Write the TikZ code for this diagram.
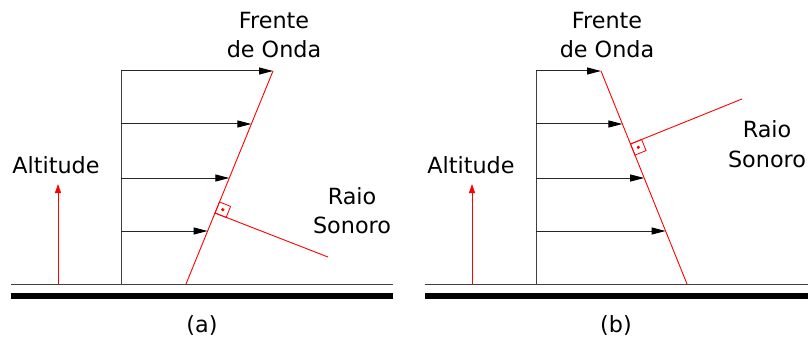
\documentclass[tikz,border=0pt]{standalone}
\usepackage{fontspec}
\setmainfont{DejaVu Sans}
\usetikzlibrary{arrows.meta}
\begin{document}
\begin{tikzpicture}[x=1pt,y=-1pt,
  lbl/.style={font=\fontsize{22.3}{26}\selectfont, inner sep=0pt, anchor=base},
  prop/.style={draw=black!85, line width=1pt, -{Triangle[length=14pt,width=7pt,color=black]}},
  axisline/.style={draw=black!75, line width=1pt},
  front/.style={draw=red, line width=0.9pt},
  alt/.style={draw=red, line width=0.9pt, -{Triangle[length=9pt,width=6pt]}},
  bar/.style={fill=black}
]
\useasboundingbox (0,0) rectangle (808,342);

% ---------- panel (a) ----------
\coordinate (ga1) at (11,284); \coordinate (ga2) at (393,284);
\draw[axisline] (ga1) -- (ga2);
\fill[bar] (11,293) rectangle (393,299);
\coordinate (va0) at (121,284); \coordinate (va1) at (121,71);
\draw[axisline] (va0) -- (va1);
\coordinate (wa0) at (186,284); \coordinate (wa1) at (273,71);
\draw[front] (wa0) -- (wa1);
\coordinate (sa1) at (121,124); \coordinate (ta1) at (251.4,124);
\coordinate (sa2) at (121,178); \coordinate (ta2) at (229.3,178);
\coordinate (sa3) at (121,231); \coordinate (ta3) at (207.6,231);
\draw[prop] (va1) -- (wa1);
\draw[prop] (sa1) -- (ta1);
\draw[prop] (sa2) -- (ta2);
\draw[prop] (sa3) -- (ta3);
\coordinate (fa) at (215,213); \coordinate (ra) at (328,257);
\draw[front] (fa) -- (ra);
\draw[draw=red, line width=0.8pt] (fa) -- (219.5,201.9) -- (230.6,206.4) -- (226.1,217.5) -- cycle;
\fill[red] (222.8,209.7) circle (1.8);
\coordinate (aa0) at (58,284); \coordinate (aa1) at (58,184);
\draw[alt] (aa0) -- (aa1);
\node[lbl] (fra) at (274,29) {Frente};
\node[lbl] (doa) at (274,58) {de Onda};
\node[lbl] (alta) at (56,173) {Altitude};
\node[lbl] (rsa1) at (352,204) {Raio};
\node[lbl] (rsa2) at (352,233) {Sonoro};
\node[lbl] (capa) at (202,332) {(a)};

% ---------- panel (b) ----------
\coordinate (gb1) at (425,284); \coordinate (gb2) at (808,284);
\draw[axisline] (gb1) -- (gb2);
\fill[bar] (425,293) rectangle (808,299);
\coordinate (vb0) at (536,284); \coordinate (vb1) at (536,71);
\draw[axisline] (vb0) -- (vb1);
\coordinate (wb0) at (687,284); \coordinate (wb1) at (601,71);
\draw[front] (wb0) -- (wb1);
\coordinate (sb1) at (536,124); \coordinate (tb1) at (622.4,124);
\coordinate (sb2) at (536,178); \coordinate (tb2) at (644.2,178);
\coordinate (sb3) at (536,231); \coordinate (tb3) at (665.6,231);
\draw[prop] (vb1) -- (wb1);
\draw[prop] (sb1) -- (tb1);
\draw[prop] (sb2) -- (tb2);
\draw[prop] (sb3) -- (tb3);
\coordinate (fb) at (630.5,144); \coordinate (rb) at (742,99);
\draw[front] (fb) -- (rb);
\draw[draw=red, line width=0.8pt] (fb) -- (641.6,139.5) -- (646.1,150.6) -- (635,155.1) -- cycle;
\fill[red] (638.3,147.3) circle (1.8);
\coordinate (ab0) at (472,284); \coordinate (ab1) at (472,184);
\draw[alt] (ab0) -- (ab1);
\node[lbl] (frb) at (607,29) {Frente};
\node[lbl] (dob) at (607,58) {de Onda};
\node[lbl] (altb) at (471,173) {Altitude};
\node[lbl] (rsb1) at (767,138) {Raio};
\node[lbl] (rsb2) at (767,167) {Sonoro};
\node[lbl] (capb) at (616,332) {(b)};
\end{tikzpicture}
\end{document}
